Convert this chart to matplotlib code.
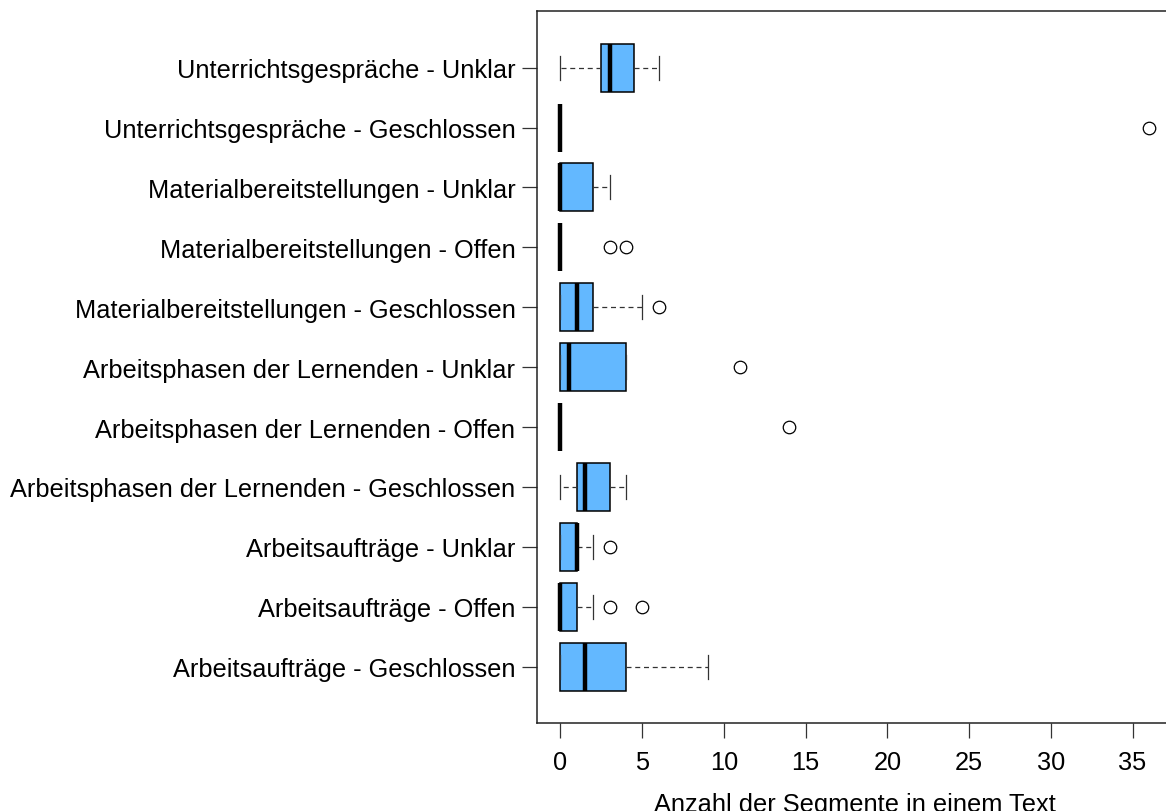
import matplotlib
matplotlib.use("Agg")
import matplotlib.pyplot as plt

plt.rcParams['font.family'] = ['Liberation Sans', 'DejaVu Sans']

# categories, bottom row first
labels = [
    "Arbeitsaufträge - Geschlossen",
    "Arbeitsaufträge - Offen",
    "Arbeitsaufträge - Unklar",
    "Arbeitsphasen der Lernenden - Geschlossen",
    "Arbeitsphasen der Lernenden - Offen",
    "Arbeitsphasen der Lernenden - Unklar",
    "Materialbereitstellungen - Geschlossen",
    "Materialbereitstellungen - Offen",
    "Materialbereitstellungen - Unklar",
    "Unterrichtsgespräche - Geschlossen",
    "Unterrichtsgespräche - Unklar",
]
whislo = [0, 0, 0, 0, 0, 0, 0, 0, 0, 0, 0]
q1     = [0, 0, 0, 1, 0, 0, 0, 0, 0, 0, 2.5]
med    = [1.5, 0, 1, 1.5, 0, 0.5, 1, 0, 0, 0, 3]
q3     = [4, 1, 1, 3, 0, 4, 2, 0, 2, 0, 4.5]
whishi = [9, 2, 2, 4, 0, 4, 5, 0, 3, 0, 6]
fliers = [[], [3, 5], [3], [], [14], [11], [6], [3, 4], [], [36], []]

stats = []
for i in range(len(labels)):
    stats.append({'label': labels[i], 'whislo': whislo[i], 'q1': q1[i],
                  'med': med[i], 'q3': q3[i], 'whishi': whishi[i],
                  'fliers': fliers[i]})

fig = plt.figure(figsize=(11.66, 8.12), dpi=100)
ax = fig.add_axes([0.4605, 0.1084, 0.545, 0.8764])

ax.bxp(stats, positions=range(1, len(labels) + 1), widths=0.8, vert=False,
       patch_artist=True, capwidths=0.4,
       boxprops=dict(facecolor='#63B8FF', edgecolor='black', linewidth=1.1),
       medianprops=dict(color='black', linewidth=3.2, solid_capstyle='butt'),
       whiskerprops=dict(color='#333333', linewidth=0.9, linestyle=(0, (4, 3))),
       capprops=dict(color='#333333', linewidth=0.9),
       flierprops=dict(marker='o', markersize=9, markerfacecolor='none',
                       markeredgecolor='black', markeredgewidth=0.9))

ax.set_xlim(-1.44, 37.44)
ax.set_ylim(0.06, 11.94)
ax.set_xticks([0, 5, 10, 15, 20, 25, 30, 35])
ax.set_yticks(range(1, len(labels) + 1))
ax.set_yticklabels(labels)
ax.tick_params(axis='both', labelsize=18.3, length=10.5, width=0.9, color='#333333')
ax.tick_params(axis='y', pad=5)
ax.tick_params(axis='x', pad=9)
for s in ax.spines.values():
    s.set_linewidth(1.1)
    s.set_color('#222222')
ax.set_xlabel("Anzahl der Segmente in einem Text", fontsize=18.3, labelpad=13)

fig.savefig("out.png", dpi=100)
